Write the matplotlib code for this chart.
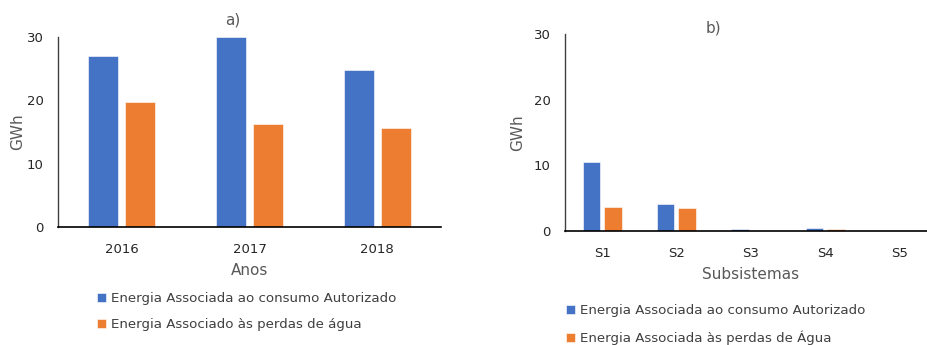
import numpy as np
import matplotlib.pyplot as plt

# Energy (GWh) per year and per subsystem
anos = ['2016', '2017', '2018']
consumo_anos = [27.0, 30.0, 24.8]
perdas_anos = [19.7, 16.3, 15.6]

subsistemas = ['S1', 'S2', 'S3', 'S4', 'S5']
consumo_sub = [10.5, 4.1, 0.3, 0.45, 0.0]
perdas_sub = [3.65, 3.5, 0.0, 0.3, 0.0]

azul = '#4472C4'
laranja = '#ED7D31'
plt.rcParams['font.family'] = 'DejaVu Sans'

fig = plt.figure(figsize=(9.28, 3.45), dpi=100)
W, H = 928, 345


def px_axes(x0, y_top, x1, y_bot):
    return fig.add_axes([x0 / W, 1 - y_bot / H, (x1 - x0) / W, (y_bot - y_top) / H])


def desenhar(ax, cats, s1, s2, label1, label2, xlabel, ylab_x):
    x = np.arange(len(cats))
    w = 0.235
    ax.bar(x - 0.145, s1, w, color=azul, edgecolor='white', linewidth=0.4, label=label1)
    ax.bar(x + 0.145, s2, w, color=laranja, edgecolor='white', linewidth=0.4, label=label2)
    ax.set_xlim(-0.5, len(cats) - 0.5)
    ax.set_ylim(0, 30)
    ax.set_yticks([0, 10, 20, 30])
    ax.set_xticks(x)
    ax.set_xticklabels(cats)
    ax.tick_params(length=0, labelsize=9.5, colors='#262626')
    ax.tick_params(axis='x', pad=11.5)
    ax.tick_params(axis='y', pad=10.5)
    for s in ['top', 'right']:
        ax.spines[s].set_visible(False)
    ax.spines['left'].set_color('#404040')
    ax.spines['bottom'].set_color('black')
    ax.spines['left'].set_linewidth(1.0)
    ax.spines['bottom'].set_linewidth(1.2)
    ax.set_xlabel(xlabel, fontsize=11, color='#595959', labelpad=5)
    ax.set_ylabel('GWh', fontsize=11, color='#595959')
    ax.yaxis.set_label_coords(ylab_x, 0.5)


ax1 = px_axes(58, 37, 441, 227)
desenhar(ax1, anos, consumo_anos, perdas_anos,
         'Energia Associada ao consumo Autorizado',
         'Energia Associado às perdas de água', 'Anos', -0.086)

ax2 = px_axes(565, 34, 936.5, 231)
desenhar(ax2, subsistemas, consumo_sub, perdas_sub,
         'Energia Associada ao consumo Autorizado',
         'Energia Associada às perdas de Água', 'Subsistemas', -0.108)

fig.text(233 / W, 1 - 20 / H, 'a)', fontsize=11, color='#595959', ha='center', va='center')
fig.text(713 / W, 1 - 28 / H, 'b)', fontsize=11, color='#595959', ha='center', va='center')

for ax, (x0, y0) in [(ax1, (97, 292)), (ax2, (566, 304))]:
    leg = ax.legend(loc='upper left', bbox_to_anchor=(x0 / W, 1 - y0 / H),
                    bbox_transform=fig.transFigure, frameon=False,
                    fontsize=9.6, handlelength=0.7, handleheight=0.7,
                    handletextpad=0.35, labelspacing=1.0, borderpad=0,
                    borderaxespad=0)
    for t in leg.get_texts():
        t.set_color('#404040')

fig.savefig('out.png', dpi=100)
